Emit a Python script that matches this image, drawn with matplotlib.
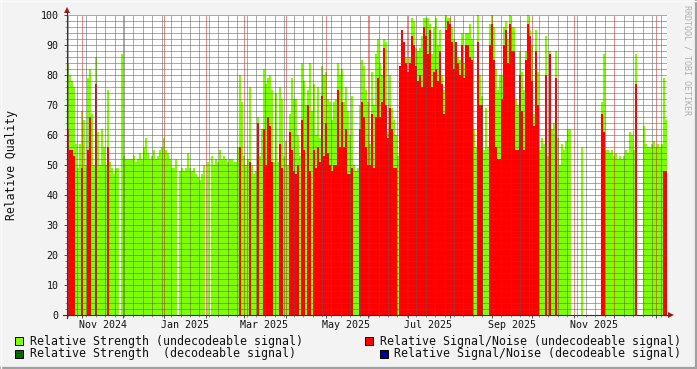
import numpy as np
import matplotlib
matplotlib.use("Agg")
import matplotlib.pyplot as plt
import matplotlib.dates as mdates
from matplotlib.ticker import MultipleLocator, NullFormatter, FixedLocator, FixedFormatter
from matplotlib.lines import Line2D
from matplotlib.patches import Rectangle, Polygon
from datetime import datetime

nan = np.nan

# ---- data (one value per ~1.5 days) ----
range_start = datetime(2024, 10, 20, 15)
range_end = datetime(2026, 1, 9, 4)

strength_undecodeable = [
    84, 80, 78, 76, 57, 49, 57, 68, 65, 50,
    79, 82, 67, 50, 86, 61, 50, 62, 56, 50,
    75, 51, 49, 47, 49, 49, nan, 87, 53, 52,
    52, 52, 52, 53, 51, 52, 54, 52, 56, 59,
    54, 52, 53, 55, 52, 53, 55, 56, 59, 55,
    54, 52, 49, 49, 52, nan, 48, 49, 48, 49,
    54, 49, 48, 49, 47, 46, 45, 47, 50, nan,
    51, nan, 53, 50, 52, 51, 55, 52, 53, 52,
    51, 52, 52, 51, 51, 56, 80, 71, 53, 50,
    52, 76, 50, 47, 48, 66, 53, 62, 82, 77,
    79, 80, 75, 51, 74, 51, 76, 72, 53, 58,
    50, 67, 79, 72, 72, 60, 53, 84, 78, 70,
    75, 84, 68, 77, 60, 76, 59, 83, 80, 81,
    72, 71, 65, 71, 72, 84, 80, 82, 71, 76,
    68, 60, 73, 50, 48, 49, 70, 85, 83, 75,
    71, 57, 81, 70, 87, 92, 84, 80, 92, 91,
    61, 80, 69, 65, 60, 53, 79, 89, 90, 86,
    73, 86, 99, 98, 89, 88, 89, 93, 99, 99,
    99, 97, 87, 96, 99, 90, 95, 80, 75, 100,
    99, 99, 96, 92, 88, 86, 85, 94, 84, 94,
    94, 97, 92, 62, 56, 100, 80, 73, 55, 69,
    56, 97, 100, 96, 82, 75, 80, 80, 96, 98,
    92, 100, 96, 96, 72, 70, 88, 81, 75, 88,
    100, 95, 90, 67, 95, 81, 55, 59, 57, 93,
    53, 88, 62, 64, 88, 59, 50, 57, 55, 58,
    62, 62, nan, nan, nan, nan, nan, 56, nan, nan,
    nan, nan, nan, nan, nan, nan, nan, 71, 87, 55,
    55, 54, 55, 53, 54, 52, 53, 52, 53, 55,
    54, 61, 60, 55, 87, nan, nan, nan, 63, 57,
    56, 56, 57, 58, 56, 57, 56, 57, 79, 65,
]

snr_undecodeable = [
    62, 55, 55, 53, 0, 0, 0, 49, 0, 0,
    55, 66, 0, 0, 77, 0, 0, 0, 0, 0,
    56, 0, 0, 0, 0, 0, nan, 0, 0, 0,
    0, 0, 0, 0, 0, 0, 0, 0, 0, 0,
    0, 0, 0, 0, 0, 0, 0, 0, 0, 0,
    0, 0, 0, 0, 0, nan, 0, 0, 0, 0,
    0, 0, 0, 0, 0, 0, 0, 0, 0, nan,
    0, nan, 0, 0, 0, 0, 0, 0, 0, 0,
    0, 0, 0, 0, 0, 0, 56, 0, 0, 0,
    0, 51, 0, 0, 0, 64, 0, 0, 62, 50,
    66, 63, 51, 0, 0, 0, 57, 49, 0, 0,
    0, 61, 55, 48, 47, 50, 0, 65, 55, 0,
    70, 48, 0, 55, 49, 56, 51, 73, 53, 64,
    54, 50, 48, 50, 50, 75, 56, 71, 56, 62,
    47, 47, 49, 0, 0, 0, 62, 71, 66, 56,
    50, 50, 67, 49, 66, 79, 66, 71, 89, 70,
    59, 69, 62, 49, 49, 0, 83, 95, 91, 84,
    81, 84, 93, 90, 83, 78, 80, 76, 96, 93,
    87, 95, 76, 81, 82, 78, 88, 77, 67, 95,
    98, 97, 91, 82, 91, 84, 80, 90, 79, 90,
    90, 86, 85, 0, 0, 91, 70, 70, 0, 0,
    0, 90, 97, 85, 56, 52, 52, 72, 90, 95,
    84, 97, 88, 88, 55, 55, 80, 68, 55, 85,
    97, 93, 78, 63, 88, 70, 0, 0, 0, 80,
    0, 87, 0, 0, 79, 0, 0, 0, 0, 0,
    0, 0, nan, nan, nan, nan, nan, 0, nan, nan,
    nan, nan, nan, nan, nan, nan, nan, 67, 61, 0,
    0, 0, 0, 0, 0, 0, 0, 0, 0, 0,
    0, 0, 0, 0, 77, nan, nan, nan, 0, 0,
    0, 0, 0, 0, 0, 0, 0, 0, 48, 48,
]

y_ticks = [0, 10, 20, 30, 40, 50, 60, 70, 80, 90, 100]
x_label_dates = [datetime(2024, 11, 16), datetime(2025, 1, 16), datetime(2025, 3, 16),
                 datetime(2025, 5, 16), datetime(2025, 7, 16), datetime(2025, 9, 16),
                 datetime(2025, 11, 16)]
x_labels = ["Nov 2024", "Jan 2025", "Mar 2025", "May 2025", "Jul 2025", "Sep 2025", "Nov 2025"]

legend_entries = [
    ("Relative Strength (undecodeable signal)", "#80FF00"),
    ("Relative Strength  (decodeable signal)", "#006600"),
    ("Relative Signal/Noise (undecodeable signal)", "#FF0000"),
    ("Relative Signal/Noise (decodeable signal)", "#000099"),
]

# ---- figure ----
W, H = 697, 369
MONO = "DejaVu Sans Mono"
BG = "#F3F3F3"
fig = plt.figure(figsize=(W / 100, H / 100), dpi=100, facecolor=BG)


def fx(x):
    return x / W


def fy(y):
    return 1 - y / H


L, R, T, B = 67, 667, 15, 315
ax = fig.add_axes([fx(L), fy(B), (R - L) / W, (B - T) / H])
ax.set_facecolor("white")

g = np.array(strength_undecodeable, dtype=float)
s = np.array(snr_undecodeable, dtype=float)
n = len(g)
t0 = mdates.date2num(range_start)
t1 = mdates.date2num(range_end)
edges = np.linspace(t0, t1, n + 1)
step = edges[1] - edges[0]

ax.bar(edges[:-1], g, width=step, align="edge", color="#80FF00", linewidth=0,
       antialiased=False, zorder=1)
ax.bar(edges[:-1], s, width=step, align="edge", color="#FF0000", linewidth=0,
       antialiased=False, zorder=1.1)

ax.set_xlim(t0, t1)
ax.set_ylim(0, 100)

ax.xaxis.set_major_locator(mdates.MonthLocator())
ax.xaxis.set_minor_locator(mdates.WeekdayLocator(byweekday=mdates.MO))
ax.xaxis.set_major_formatter(NullFormatter())
ax.yaxis.set_major_locator(FixedLocator(y_ticks))
ax.yaxis.set_major_formatter(FixedFormatter([str(v) for v in y_ticks]))
ax.yaxis.set_minor_locator(MultipleLocator(2))

ax.set_axisbelow(False)
ax.grid(True, which="minor", color=(0.35, 0.35, 0.35, 0.16), linestyle=(0, (1, 1)),
        linewidth=0.72, snap=True)
ax.grid(True, which="major", color=(0.85, 0.1, 0.1, 0.30), linestyle=(0, (1, 1)),
        linewidth=0.72, snap=True)

for sp in ax.spines.values():
    sp.set_visible(False)

ax.tick_params(axis="y", which="major", length=2.2, width=0.72, color="#555555",
               pad=4.0, labelsize=7.2, labelcolor="#111111")
ax.tick_params(axis="y", which="minor", length=1.4, width=0.72, color="#999999")
ax.tick_params(axis="x", which="major", length=2.2, width=0.72, color="#555555")
ax.tick_params(axis="x", which="minor", length=1.4, width=0.72, color="#999999")
for lab in ax.get_yticklabels():
    lab.set_fontfamily(MONO)

for d, lab in zip(x_label_dates, x_labels):
    ax.text(mdates.date2num(d), -0.032, lab, transform=ax.get_xaxis_transform(),
            ha="center", va="center", fontsize=7.2, family=MONO, color="#111111")

# axis lines and arrows
fig.add_artist(Line2D([fx(L), fx(L)], [fy(B + 3), fy(12)], color="#333333", lw=0.8))
fig.add_artist(Line2D([fx(L - 4), fx(670)], [fy(B), fy(B)], color="#333333", lw=0.8))
fig.add_artist(Polygon([(fx(L - 3), fy(13)), (fx(L + 3), fy(13)), (fx(L), fy(7))],
                       closed=True, color="#9A1C1C", lw=0))
fig.add_artist(Polygon([(fx(668), fy(B - 3)), (fx(668), fy(B + 3)), (fx(674), fy(B))],
                       closed=True, color="#9A1C1C", lw=0))

# y axis title
fig.text(fx(12), fy(165), "Relative Quality", rotation=90, ha="center", va="center",
         fontsize=8.3, family=MONO, color="#111111")

# watermark
fig.text(fx(686.5), fy(60), "RRDTOOL / TOBI OETIKER", rotation=270, ha="center",
         va="center", fontsize=6, family=MONO, color="#B0B0B0")

# legend
legend_layout = [
    (15, 341, 30),   # square x, center y, text x
    (15, 353.5, 30),
    (365, 341, 380),
    (380, 353.5, 394),
]
for (label, col), (sx, cy, tx) in zip(legend_entries, legend_layout):
    fig.add_artist(Rectangle((fx(sx), fy(cy + 4)), 8 / W, 8 / H, facecolor=col,
                             edgecolor="black", lw=0.7))
    fig.text(fx(tx), fy(cy), label, ha="left", va="center", fontsize=8.4,
             family=MONO, color="#111111")

# frame shading
fig.add_artist(Line2D([0, 1], [fy(368), fy(368)], color="#A0A0A0", lw=1.6))
fig.add_artist(Line2D([fx(696), fx(696)], [0, 1], color="#A0A0A0", lw=1.6))
fig.add_artist(Line2D([0, 1], [fy(0.5), fy(0.5)], color="#FAFAFA", lw=1.0))
fig.add_artist(Line2D([fx(0.5), fx(0.5)], [0, 1], color="#FAFAFA", lw=1.0))

fig.savefig("out.png", dpi=100, facecolor=BG)
